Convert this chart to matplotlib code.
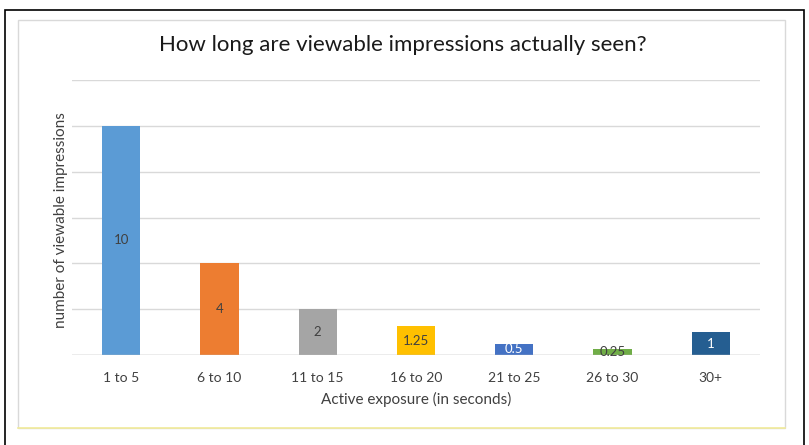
import matplotlib
matplotlib.use("Agg")
import matplotlib.pyplot as plt
from matplotlib.patches import Rectangle
import numpy as np

categories = ["1 to 5", "6 to 10", "11 to 15", "16 to 20", "21 to 25", "26 to 30", "30+"]
values = [10, 4, 2, 1.25, 0.5, 0.25, 1]
labels = ["10", "4", "2", "1.25", "0.5", "0.25", "1"]
colors = ["#5B9BD5", "#ED7D31", "#A5A5A5", "#FFC000", "#4472C4", "#70AD47", "#255E91"]
label_colors = ["#404040", "#404040", "#404040", "#404040", "#FFFFFF", "#404040", "#FFFFFF"]

plt.rcParams['font.family'] = ['Lato', 'DejaVu Sans']

W, H = 809, 445
fig = plt.figure(figsize=(W / 100, H / 100), dpi=100)
fig.patch.set_facecolor("white")

# outer black frame and inner chart frame
fig.patches.append(Rectangle((5 / W, -0.01), (804 - 5) / W, (H - 10) / H + 0.01,
                             transform=fig.transFigure, fill=False,
                             edgecolor="black", linewidth=1.2))
fig.patches.append(Rectangle((18 / W, (H - 428) / H), (785 - 18) / W, (428 - 20) / H,
                             transform=fig.transFigure, fill=False,
                             edgecolor="#D9D9D9", linewidth=1))
fig.lines.append(plt.Line2D([18 / W, 785 / W], [(H - 428) / H] * 2,
                            transform=fig.transFigure, color="#F2EB9A", linewidth=1.2))

ax = fig.add_axes([72 / W, (H - 355) / H, 688 / W, 275 / H])
x = np.arange(len(categories))
bars = ax.bar(x, values, width=0.39, color=colors, zorder=3)

ax.set_xlim(-0.5, len(categories) - 0.5)
ax.set_ylim(0, 12)
ax.set_yticks(np.arange(0, 13, 2))
ax.set_yticklabels([])
ax.grid(axis="y", color="#D9D9D9", linewidth=1, zorder=0)
ax.axhline(0, color="#BFBFBF", linewidth=1, zorder=4)
for s in ax.spines.values():
    s.set_visible(False)
ax.tick_params(length=0)
ax.set_xticks(x)
ax.set_xticklabels(categories, fontsize=10, color="#404040")
ax.tick_params(axis="x", pad=12)

for b, v, t, c in zip(bars, values, labels, label_colors):
    ax.text(b.get_x() + b.get_width() / 2, v / 2, t, ha="center", va="center",
            fontsize=9.5, color=c, zorder=5)

ax.set_xlabel("Active exposure (in seconds)", fontsize=11, color="#404040", labelpad=6)
ax.set_ylabel("number of viewable impressions", fontsize=11, color="#404040")
ax.yaxis.set_label_coords(-4 / 688, (355 - 220) / 275)
fig.text(403 / W, (H - 45) / H, "How long are viewable impressions actually seen?",
         ha="center", va="center", fontsize=16, color="#1A1A1A")

fig.savefig("out.png", dpi=100)
